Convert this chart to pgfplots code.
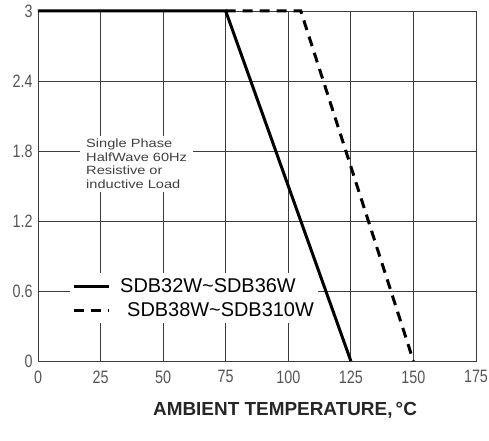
\documentclass[border=0pt]{standalone}
\usepackage{fontspec}
\setmainfont{Liberation Sans}
\newfontfamily\tickfont[FakeStretch=0.8]{Liberation Sans}
\newfontfamily\notefont[FakeStretch=1.22]{Liberation Sans}
\usepackage{pgfplots}
\pgfplotsset{compat=1.18}
\usetikzlibrary{calc}
\definecolor{gridc}{RGB}{60,60,60}
\definecolor{tickc}{RGB}{85,85,85}

\begin{document}
\begin{tikzpicture}
  \begin{axis}[
    scale only axis,
    width=438bp, height=350bp,
    xmin=0, xmax=175, ymin=0, ymax=3,
    xtick={0,25,...,175},
    ytick={0,0.6,1.2,1.8,2.4,3},
    yticklabels={0,0.6,1.2,1.8,2.4,3},
    grid=major,
    grid style={gridc, line width=0.9bp},
    axis line style={gridc, line width=0.9bp},
    major tick length=0pt,
    tick label style={font=\tickfont\fontsize{18}{20}\selectfont, text=tickc},
    /pgf/number format/assume math mode=true,
    xticklabel style={yshift=-6bp},
    yticklabel style={xshift=-2bp},
    xlabel={AMBIENT TEMPERATURE,\,°C},
    xlabel style={at={(axis description cs:0.564,-0.14)}, anchor=center,
      font=\bfseries\fontsize{19}{22}\selectfont, text=black!85},
    legend style={at={(axis cs:12.8,0.754)}, anchor=north west,
      fill=white, draw=none, font=\fontsize{20}{24}\selectfont,
      row sep=2bp, inner sep=2bp,
      nodes={inner sep=2bp, text height=15bp, text depth=3bp},
      /tikz/every odd column/.append style={column sep=8bp}},
    legend cell align=left,
    legend image code/.code={\draw[#1] (0bp,0bp) -- (35bp,0bp);},
    clip=false,
  ]
  % SDB32W~SDB36W
  \addplot[black, line width=3bp] coordinates {(0,3) (75,3) (125,0)};
  \addlegendentry{SDB32W\textasciitilde SDB36W}
  % SDB38W~SDB310W
  \addplot[black, line width=3bp, dash pattern=on 10bp off 7bp]
    coordinates {(75,3) (105,3) (150,0)};
  \addlegendentry{\hspace{7bp}SDB38W\textasciitilde SDB310W}
  \node[anchor=north west, fill=white, align=left, inner xsep=6bp, inner ysep=3bp,
    font=\notefont\fontsize{12}{13.7}\selectfont, text=black!75]
    at (axis cs:16.8,1.93) {Single Phase\\HalfWave 60Hz\\Resistive or\\inductive Load};
  \coordinate (ll) at (rel axis cs:0,0);
  \coordinate (ur) at (rel axis cs:1,1);
  \end{axis}
  \pgfresetboundingbox
  \path[use as bounding box] ($(ll)+(-38bp,-80bp)$) rectangle ($(ur)+(13bp,11bp)$);
\end{tikzpicture}
\end{document}
